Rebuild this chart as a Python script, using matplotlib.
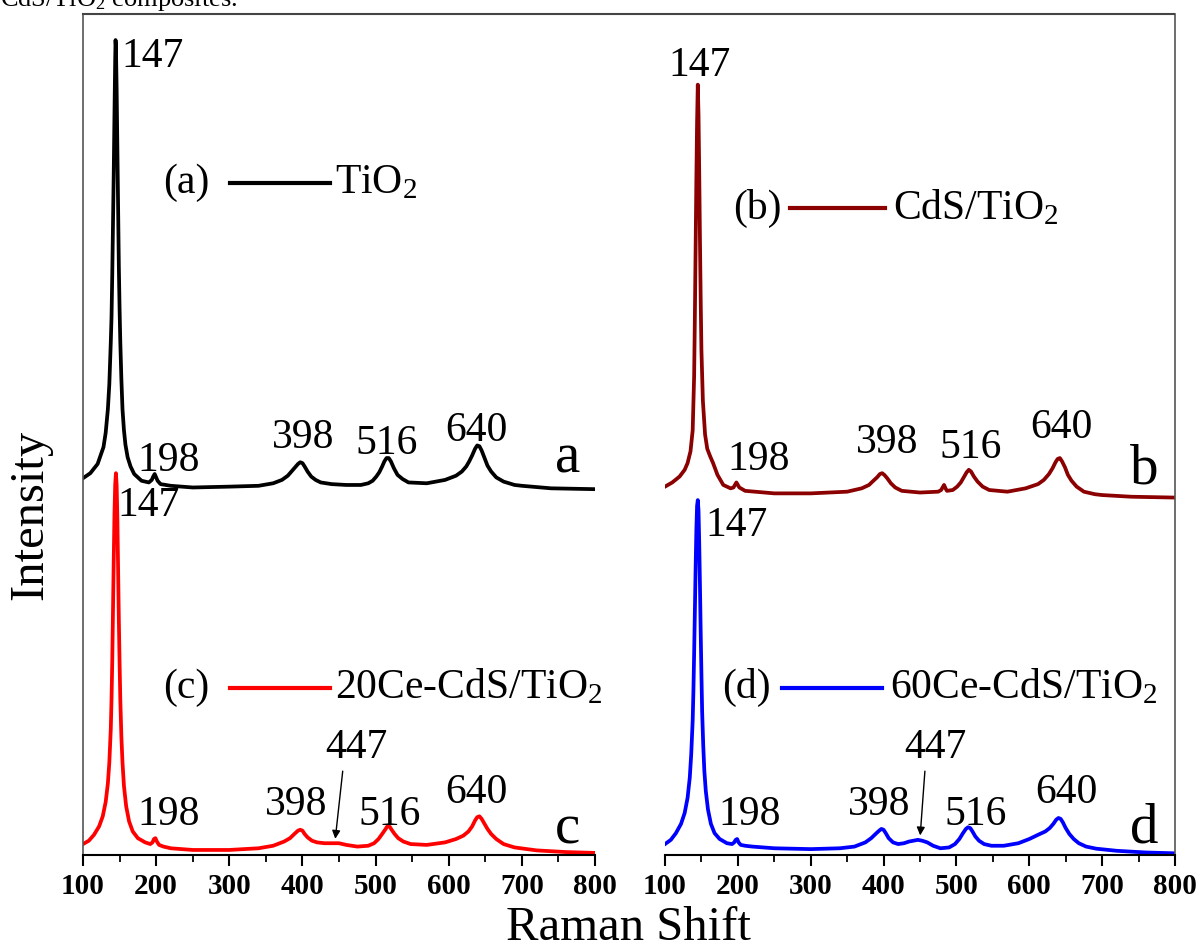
import matplotlib
matplotlib.use("Agg")
import matplotlib.pyplot as plt
from matplotlib.lines import Line2D

plt.rcParams['font.family'] = ['Liberation Serif', 'DejaVu Serif']
plt.rcParams['mathtext.fontset'] = 'custom'
plt.rcParams['mathtext.rm'] = 'Liberation Serif'
plt.rcParams['mathtext.it'] = 'Liberation Serif:italic'
plt.rcParams['mathtext.bf'] = 'Liberation Serif:bold'

# ---------------- data (arbitrary intensity units) ----------------
xa = [100, 110, 120, 128, 131, 134, 136, 138, 139, 140, 141, 142, 143, 144, 144.5, 145, 146, 147,
      148, 149, 150, 151, 152.5, 154, 156, 158, 161, 165, 170, 180, 190, 194, 196, 198, 200, 202,
      206, 220, 250, 300, 340, 360, 372, 380, 385, 390, 394, 397, 400, 403, 407, 412, 418, 425,
      440, 460, 480, 490, 496, 501, 505, 509, 512, 515, 518, 521, 525, 530, 537, 545, 570, 595,
      610, 618, 624, 628, 632, 636, 639, 642, 645, 649, 653, 658, 665, 675, 690, 700, 740, 800]
ya = [44.8, 45.4, 46.5, 48.5, 50.2, 53, 56, 61, 64, 69, 75, 81, 88, 94.5, 96.9, 96.2, 91, 84,
      77, 70, 65, 61, 56.5, 53, 50.5, 48.8, 47.3, 46.2, 45.3, 44.5, 44.3, 44.6, 45.0, 45.3, 44.9, 44.5,
      44.1, 43.9, 43.7, 43.8, 43.9, 44.2, 44.6, 45.1, 45.6, 46.1, 46.5, 46.7, 46.6, 46.2, 45.6, 45.0, 44.6, 44.3,
      44.1, 44.0, 44.0, 44.2, 44.5, 45.0, 45.5, 46.2, 46.8, 47.2, 47.2, 46.8, 46.0, 45.2, 44.7, 44.3, 44.2, 44.6,
      45.1, 45.6, 46.2, 46.8, 47.5, 48.3, 48.7, 48.6, 48.1, 47.2, 46.3, 45.6, 44.9, 44.4, 44.0, 43.9, 43.6, 43.5]

xb = [100, 110, 120, 127, 131, 135, 138, 140, 141, 142, 143, 144, 145, 146, 147, 148, 149, 150,
      152, 155, 158, 162, 166, 172, 180, 190, 194, 196, 198, 200, 202, 210, 250, 300, 350, 370,
      380, 386, 391, 395, 398, 401, 405, 410, 416, 425, 450, 475, 479, 481, 483, 485, 487, 495,
      501, 506, 510, 514, 517, 520, 524, 529, 536, 545, 570, 595, 612, 620, 627, 632, 636, 639,
      642, 645, 649, 653, 658, 665, 675, 690, 700, 740, 800]
yb = [43.8, 44.3, 45.0, 45.8, 46.6, 48.0, 50.5, 57, 64, 72, 80, 87, 91.6, 88, 81, 73, 66, 60,
      54, 50, 48.3, 47.4, 46.6, 45.2, 44.0, 43.6, 43.7, 44.0, 44.3, 44.0, 43.7, 43.3, 43.0, 43.0, 43.2, 43.6,
      44.0, 44.5, 44.9, 45.3, 45.4, 45.2, 44.8, 44.2, 43.7, 43.3, 43.1, 43.2, 43.4, 43.7, 44.0, 43.6, 43.3, 43.4,
      43.8, 44.3, 44.9, 45.5, 45.8, 45.6, 45.0, 44.4, 43.8, 43.4, 43.2, 43.6, 44.1, 44.6, 45.3, 46.0, 46.7, 47.1,
      47.2, 46.8, 46.1, 45.2, 44.5, 43.8, 43.2, 42.9, 42.8, 42.6, 42.5]

xc = [100, 108, 115, 122, 127, 131, 134, 136, 138, 139, 140, 141, 142, 143, 144, 145, 146, 147,
      148, 149, 150, 151, 152.5, 154, 156, 159, 163, 168, 175, 185, 192, 195, 197, 199, 201, 204,
      210, 220, 250, 300, 340, 360, 375, 383, 389, 394, 397, 400, 403, 407, 413, 420, 430, 440,
      450, 460, 475, 490, 498, 504, 509, 513, 516, 519, 522, 526, 531, 538, 548, 570, 595, 610,
      620, 627, 632, 636, 639, 642, 645, 649, 653, 658, 665, 675, 690, 720, 760, 800]
yc = [1.3, 1.7, 2.4, 3.4, 4.6, 6.3, 8.5, 11, 15, 18.5, 23, 29, 35, 40.5, 44, 45.4, 44, 40,
      34, 28, 23, 18.5, 14, 11, 8.2, 5.8, 4.0, 2.8, 2.0, 1.5, 1.3, 1.5, 1.9, 2.0, 1.6, 1.2,
      1.0, 0.8, 0.6, 0.6, 0.8, 1.1, 1.6, 2.0, 2.5, 2.9, 3.0, 2.9, 2.5, 2.1, 1.7, 1.5, 1.4, 1.4,
      1.4, 1.2, 1.0, 1.1, 1.4, 1.9, 2.5, 3.0, 3.4, 3.4, 3.0, 2.5, 2.0, 1.6, 1.3, 1.2, 1.5, 1.9,
      2.3, 2.8, 3.4, 4.1, 4.5, 4.6, 4.3, 3.7, 3.1, 2.5, 1.9, 1.3, 0.9, 0.55, 0.35, 0.25]

xd = [100, 108, 115, 122, 127, 131, 134, 136, 138, 139, 140, 141, 142, 143, 144, 145, 146, 147,
      148, 149, 150, 151, 152.5, 154, 156, 159, 163, 168, 175, 185, 192, 195, 197, 199, 201, 204,
      210, 220, 250, 300, 340, 360, 375, 383, 389, 394, 397, 400, 403, 407, 413, 420, 428, 435,
      441, 447, 453, 460, 468, 478, 490, 498, 504, 509, 513, 516, 519, 522, 526, 531, 538, 548,
      565, 585, 600, 612, 622, 628, 633, 637, 640, 643, 646, 650, 655, 661, 668, 678, 692, 720,
      760, 800]
yd = [1.3, 1.8, 2.6, 3.7, 5.0, 6.8, 9.2, 12, 16, 19.5, 24, 29, 34, 38.5, 41.5, 42.2, 41, 37,
      32, 26.5, 21.5, 17, 13, 10, 7.6, 5.4, 3.7, 2.6, 1.9, 1.4, 1.3, 1.5, 1.8, 1.9, 1.5, 1.2,
      1.1, 1.0, 0.8, 0.7, 0.8, 1.0, 1.5, 2.0, 2.5, 2.9, 3.1, 3.0, 2.6, 2.0, 1.5, 1.3, 1.4, 1.6,
      1.7, 1.8, 1.7, 1.5, 1.1, 0.8, 0.9, 1.3, 1.9, 2.6, 3.1, 3.3, 3.2, 2.8, 2.2, 1.7, 1.3, 1.1,
      1.1, 1.4, 1.9, 2.4, 2.8, 3.2, 3.7, 4.2, 4.4, 4.3, 3.9, 3.2, 2.5, 1.9, 1.4, 1.0, 0.75, 0.5,
      0.3, 0.2]

series_names = ['TiO$_2$', 'CdS/TiO$_2$', '20Ce-CdS/TiO$_2$', '60Ce-CdS/TiO$_2$']
series_tags = ['(a)', '(b)', '(c)', '(d)']
curve_letters = ['a', 'b', 'c', 'd']
colors = ['#000000', '#8B0000', '#FF0000', '#0000FF']
xticks = [100, 200, 300, 400, 500, 600, 700, 800]

# peak labels: (text, x, y)
peaks_a = [('147', 153, 94.9), ('198', 175, 46.9), ('398', 358, 49.6), ('516', 472, 48.9),
           ('640', 595, 50.5)]
peaks_b = [('147', 104, 93.9), ('198', 185, 47.0), ('398', 362, 49.0), ('516', 477, 48.4),
           ('640', 601, 50.8)]
peaks_c = [('147', 146.5, 41.5), ('198', 175, 4.8), ('398', 349, 5.95), ('447', 431, 12.7),
           ('516', 476, 4.8), ('640', 595, 7.4)]
peaks_d = [('147', 155, 39.2), ('198', 173, 4.8), ('398', 351, 5.95), ('447', 429, 12.7),
           ('516', 484, 4.8), ('640', 608, 7.4)]

# ---------------- figure ----------------
W, H = 1202, 950
fig = plt.figure(figsize=(W / 100, H / 100), dpi=100)
axL = fig.add_axes([83 / W, 95 / H, 512 / W, 841 / H])
axR = fig.add_axes([665 / W, 95 / H, 510 / W, 841 / H])

for ax in (axL, axR):
    ax.set_xlim(100, 800)
    ax.set_ylim(0, 100)
    ax.set_facecolor('none')
    ax.set_yticks([])
    ax.set_xticks(xticks)
    ax.set_xticks(range(150, 800, 100), minor=True)
    ax.tick_params(axis='x', which='major', direction='out', length=8, width=1.5,
                   labelsize=21, pad=5)
    ax.tick_params(axis='x', which='minor', direction='out', length=5, width=1.3)
    for lab in ax.get_xticklabels():
        lab.set_fontweight('bold')
    ax.spines['top'].set_visible(False)
    ax.spines['bottom'].set_linewidth(1.5)

axL.spines['right'].set_visible(False)
axL.spines['left'].set_color('#555555')
axL.spines['left'].set_linewidth(1.2)
axR.spines['left'].set_visible(False)
axR.spines['right'].set_color('#555555')
axR.spines['right'].set_linewidth(1.2)

# top frame line spanning both panels
fig.add_artist(Line2D([83 / W, 1174 / W], [936 / H, 936 / H], transform=fig.transFigure,
                      color='#444444', lw=1.5))

lw = 2.7
axL.plot(xa, ya, color=colors[0], lw=lw, solid_joinstyle='round')
axR.plot(xb, yb, color=colors[1], lw=lw, solid_joinstyle='round')
axL.plot(xc, yc, color=colors[2], lw=lw, solid_joinstyle='round')
axR.plot(xd, yd, color=colors[3], lw=lw, solid_joinstyle='round')

fs_peak = 30
for ax, peaks in ((axL, peaks_a), (axR, peaks_b), (axL, peaks_c), (axR, peaks_d)):
    for txt, x, y in peaks:
        ax.text(x, y, txt, fontsize=fs_peak, ha='left', va='center')

# letters
axL.text(745, 47.2, curve_letters[0], fontsize=41, ha='left', va='center')
axR.text(738, 45.8, curve_letters[1], fontsize=41, ha='left', va='center')
axL.text(745, 3.0, curve_letters[2], fontsize=41, ha='left', va='center')
axR.text(738, 3.2, curve_letters[3], fontsize=41, ha='left', va='center')

# arrows to 447 shoulder
axL.annotate('', xy=(444.5, 1.6), xytext=(455.5, 10.3),
             arrowprops=dict(arrowstyle='-|>', color='black', lw=1.0, mutation_scale=12))
axR.annotate('', xy=(450, 2.0), xytext=(457, 10.3),
             arrowprops=dict(arrowstyle='-|>', color='black', lw=1.0, mutation_scale=12))

# legends (drawn manually)
leg = [(axL, 209, 79.9, 301, 438, 444.5),
       (axR, 193, 76.9, 272, 402, 413),
       (axL, 209, 19.9, 301, 438, 444.5),
       (axR, 178, 19.9, 261, 398, 409)]
for i, (ax, xt, yy, x0, x1, xn) in enumerate(leg):
    ax.text(xt, yy, series_tags[i], fontsize=30, ha='left', va='center')
    ax.plot([x0, x1], [yy, yy], color=colors[i], lw=3)
    ax.text(xn, yy, series_names[i], fontsize=30, ha='left', va='center')

fig.text(30 / W, 1 - 515 / H, 'Intensity', rotation=90, fontsize=35, ha='center', va='center')
fig.text(628 / W, 1 - 928 / H, 'Raman Shift', fontsize=35, ha='center', va='center')
fig.text(0, 1 - 6 / H, 'CdS/TiO$_2$ composites.', fontsize=19, ha='left', va='baseline')

fig.savefig('out.png', dpi=100)
